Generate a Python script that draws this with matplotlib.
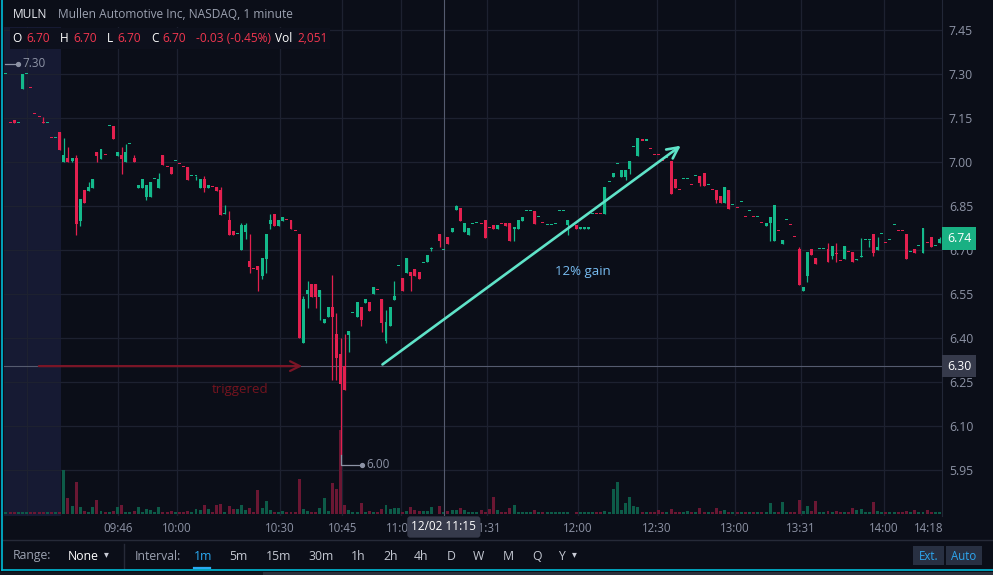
import numpy as np
import matplotlib
matplotlib.use('Agg')
import matplotlib.pyplot as plt
import matplotlib.transforms as mtransforms
from matplotlib.patches import Rectangle
from matplotlib.lines import Line2D

plt.rcParams['font.family'] = ['Open Sans', 'DejaVu Sans']

W, H = 993, 575
BG = '#0b0e18'
GRID = '#1d2130'
GREEN = '#14b98b'
RED = '#e3204f'
VGREEN = '#0d5b48'
VRED = '#6b1733'
TXT = '#8d93a5'

# 1 minute bars of MULN, 12/02 (None = no trade in that slot)
opens = [7.300, 7.133, 7.143, 7.132, 7.250, 7.300, 7.252, 7.164, 7.154, 7.133,
         7.132, 7.082, 7.081, 7.102, 7.000, 7.014, 7.003, 7.014, 6.799, 6.905,
         6.901, 6.911, 7.034, 7.010, 7.024, 7.122, 7.122, 7.021, 7.024, 7.000,
         7.060, 7.014, 6.911, 6.911, 6.881, 6.881, 6.942, 6.911, 7.024, 6.983,
         6.982, 7.002, 6.993, 6.983, 6.982, 6.951, 6.951, 6.911, 6.942, 6.911,
         6.916, 6.915, 6.905, 6.823, 6.802, 6.765, 6.754, 6.700, 6.761, 6.663,
         6.635, 6.646, 6.612, 6.669, 6.789, 6.823, 6.782, 6.799, 6.803, 6.802,
         6.766, 6.754, 6.383, 6.550, 6.584, 6.584, 6.540, 6.451, 6.472, 6.506,
         6.414, 6.346, 6.305, 6.410, 6.485, 6.472, 6.506, 6.519, 6.523, 6.550,
         6.565, 6.533, 6.390, 6.441, 6.530, 6.645, 6.605, 6.622, 6.625, 6.635,
         6.625, 6.656, 6.659, 6.703, None, 6.754, 6.700, 6.744, 6.761, 6.836,
         6.843, 6.761, 6.751, 6.789, 6.792, 6.790, 6.802, 6.776, 6.785, 6.772,
         6.790, 6.792, 6.792, 6.772, 6.772, 6.799, 6.833, 6.833, 6.833, 6.812,
         6.793, 6.785, 6.785, 6.789, 6.833, 6.833, 6.785, None, 6.785, 6.773,
         6.773, 6.773, 6.823, 6.824, 6.824, 6.823, 6.932, 6.949, 6.993, 6.949,
         6.949, 6.976, 7.051, 7.020, 7.073, 7.072, 7.045, 7.025, 7.025, 7.004,
         7.014, 7.003, 6.942, 6.904, 6.941, 6.941, 6.921, 6.951, 6.951, 6.963,
         6.920, 6.904, 6.905, 6.884, 6.860, 6.905, 6.853, 6.844, 6.863, 6.813,
         6.833, 6.813, 6.812, 6.792, 6.782, 6.792, 6.730, 6.765, 6.720, 6.801,
         6.785, 6.744, 6.703, 6.560, 6.611, 6.703, 6.672, 6.703, 6.703, 6.703,
         6.679, 6.690, 6.663, 6.669, 6.694, 6.693, 6.665, 6.676, 6.734, 6.734,
         6.754, 6.700, 6.754, 6.725, 6.734, 6.785, 6.766, 6.766, 6.754, 6.693,
         6.703, 6.713, 6.690, 6.725, 6.744, 6.713, 6.724]

highs = [7.301, 7.133, 7.143, 7.133, 7.300, 7.301, 7.252, 7.164, 7.154, 7.153,
         7.133, 7.082, 7.082, 7.102, 7.082, 7.051, 7.014, 7.024, 6.874, 6.905,
         6.932, 6.942, 7.034, 7.044, 7.024, 7.123, 7.122, 7.034, 7.051, 7.061,
         7.061, 7.024, 6.922, 6.942, 6.922, 6.932, 6.943, 6.963, 7.024, 6.983,
         6.982, 7.003, 6.993, 6.983, 6.982, 6.952, 6.952, 6.942, 6.953, 6.922,
         6.916, 6.915, 6.915, 6.853, 6.833, 6.765, 6.755, 6.792, 6.792, 6.754,
         6.635, 6.646, 6.673, 6.754, 6.823, 6.823, 6.802, 6.812, 6.803, 6.802,
         6.766, 6.754, 6.543, 6.594, 6.584, 6.584, 6.564, 6.465, 6.506, 6.615,
         6.485, 6.400, 6.414, 6.424, 6.486, 6.523, 6.506, 6.533, 6.523, 6.574,
         6.565, 6.533, 6.495, 6.506, 6.594, 6.646, 6.605, 6.673, 6.625, 6.635,
         6.625, 6.657, 6.683, 6.710, None, 6.754, 6.700, 6.744, 6.775, 6.853,
         6.843, 6.792, 6.775, 6.790, 6.793, 6.790, 6.802, 6.776, 6.785, 6.785,
         6.790, 6.792, 6.792, 6.778, 6.802, 6.812, 6.834, 6.834, 6.833, 6.813,
         6.793, 6.786, 6.786, 6.790, 6.834, 6.834, 6.802, None, 6.785, 6.774,
         6.774, 6.774, 6.824, 6.824, 6.824, 6.915, 6.933, 6.963, 6.994, 6.973,
         6.973, 7.004, 7.052, 7.082, 7.073, 7.073, 7.045, 7.025, 7.025, 7.004,
         7.015, 7.003, 6.942, 6.904, 6.942, 6.942, 6.921, 6.952, 6.951, 6.963,
         6.921, 6.904, 6.905, 6.884, 6.915, 6.905, 6.854, 6.844, 6.864, 6.813,
         6.834, 6.813, 6.813, 6.792, 6.792, 6.812, 6.853, 6.765, 6.734, 6.802,
         6.785, 6.744, 6.710, 6.574, 6.693, 6.703, 6.672, 6.704, 6.704, 6.724,
         6.713, 6.724, 6.663, 6.713, 6.694, 6.693, 6.670, 6.740, 6.735, 6.735,
         6.754, 6.744, 6.755, 6.725, 6.735, 6.786, 6.766, 6.766, 6.754, 6.694,
         6.703, 6.714, 6.775, 6.725, 6.744, 6.714, 6.744]

lows = [7.300, 7.132, 7.132, 7.132, 7.250, 7.300, 7.251, 7.163, 7.153, 7.132,
        7.132, 7.081, 7.081, 7.041, 7.000, 7.000, 7.000, 6.751, 6.782, 6.860,
        6.901, 6.911, 7.000, 7.010, 7.023, 7.122, 7.078, 7.021, 6.959, 7.000,
        7.060, 7.000, 6.911, 6.911, 6.870, 6.881, 6.942, 6.911, 6.990, 6.982,
        6.959, 7.002, 6.992, 6.982, 6.939, 6.951, 6.939, 6.911, 6.898, 6.911,
        6.915, 6.901, 6.819, 6.823, 6.751, 6.751, 6.754, 6.700, 6.737, 6.622,
        6.634, 6.560, 6.601, 6.622, 6.772, 6.782, 6.782, 6.799, 6.802, 6.772,
        6.765, 6.401, 6.383, 6.502, 6.540, 6.502, 6.461, 6.451, 6.472, 6.257,
        6.257, 6.000, 6.223, 6.352, 6.485, 6.472, 6.441, 6.519, 6.492, 6.550,
        6.564, 6.420, 6.383, 6.441, 6.530, 6.645, 6.560, 6.622, 6.560, 6.611,
        6.601, 6.656, 6.659, 6.695, None, 6.710, 6.700, 6.720, 6.761, 6.836,
        6.799, 6.761, 6.751, 6.789, 6.792, 6.789, 6.741, 6.775, 6.772, 6.772,
        6.789, 6.782, 6.730, 6.730, 6.772, 6.799, 6.833, 6.833, 6.789, 6.812,
        6.792, 6.785, 6.785, 6.789, 6.833, 6.833, 6.751, None, 6.772, 6.773,
        6.773, 6.773, 6.823, 6.823, 6.823, 6.823, 6.932, 6.949, 6.993, 6.949,
        6.939, 6.959, 7.051, 7.020, 7.072, 7.072, 7.044, 7.024, 7.024, 7.003,
        7.014, 6.891, 6.911, 6.903, 6.941, 6.941, 6.920, 6.951, 6.918, 6.918,
        6.920, 6.903, 6.860, 6.860, 6.860, 6.840, 6.853, 6.843, 6.863, 6.812,
        6.833, 6.812, 6.812, 6.791, 6.782, 6.730, 6.730, 6.764, 6.720, 6.801,
        6.784, 6.743, 6.581, 6.560, 6.591, 6.683, 6.652, 6.703, 6.703, 6.659,
        6.669, 6.659, 6.662, 6.669, 6.693, 6.659, 6.665, 6.676, 6.734, 6.710,
        6.680, 6.700, 6.754, 6.724, 6.734, 6.785, 6.765, 6.765, 6.669, 6.693,
        6.690, 6.713, 6.690, 6.724, 6.710, 6.713, 6.724]

closes = [7.301, 7.132, 7.132, 7.133, 7.300, 7.301, 7.251, 7.163, 7.153, 7.132,
          7.133, 7.081, 7.082, 7.041, 7.024, 7.000, 7.014, 6.789, 6.874, 6.860,
          6.915, 6.942, 7.021, 7.044, 7.023, 7.123, 7.078, 7.034, 7.010, 7.034,
          7.061, 7.000, 6.922, 6.942, 6.922, 6.932, 6.943, 6.942, 6.990, 6.982,
          6.959, 7.003, 6.992, 6.982, 6.939, 6.952, 6.952, 6.942, 6.911, 6.922,
          6.915, 6.901, 6.819, 6.824, 6.751, 6.751, 6.755, 6.785, 6.785, 6.642,
          6.634, 6.632, 6.673, 6.754, 6.802, 6.782, 6.802, 6.812, 6.802, 6.772,
          6.765, 6.401, 6.533, 6.563, 6.540, 6.540, 6.564, 6.465, 6.506, 6.472,
          6.332, 6.243, 6.223, 6.424, 6.486, 6.523, 6.461, 6.533, 6.492, 6.574,
          6.564, 6.451, 6.455, 6.506, 6.543, 6.646, 6.560, 6.673, 6.611, 6.611,
          6.601, 6.657, 6.683, 6.704, None, 6.730, 6.700, 6.720, 6.775, 6.850,
          6.799, 6.792, 6.775, 6.790, 6.793, 6.789, 6.741, 6.775, 6.772, 6.785,
          6.789, 6.782, 6.730, 6.778, 6.802, 6.812, 6.834, 6.834, 6.789, 6.813,
          6.792, 6.786, 6.786, 6.790, 6.834, 6.834, 6.802, None, 6.772, 6.774,
          6.774, 6.774, 6.824, 6.823, 6.823, 6.915, 6.933, 6.963, 6.994, 6.973,
          6.973, 7.004, 7.052, 7.082, 7.072, 7.073, 7.044, 7.024, 7.024, 7.003,
          7.015, 6.891, 6.911, 6.903, 6.942, 6.942, 6.920, 6.952, 6.928, 6.918,
          6.921, 6.903, 6.870, 6.860, 6.915, 6.840, 6.854, 6.843, 6.864, 6.812,
          6.834, 6.812, 6.813, 6.791, 6.792, 6.812, 6.853, 6.764, 6.734, 6.802,
          6.784, 6.743, 6.581, 6.574, 6.693, 6.683, 6.652, 6.704, 6.704, 6.659,
          6.713, 6.686, 6.662, 6.713, 6.693, 6.659, 6.668, 6.680, 6.735, 6.735,
          6.690, 6.710, 6.755, 6.724, 6.735, 6.786, 6.765, 6.765, 6.669, 6.694,
          6.690, 6.714, 6.775, 6.724, 6.710, 6.714, 6.738]

# volume in thousands of shares
volume = [2, 2, 2, 2, 2, 2, 2, 2, 2, 2,
          2, 2, 2, 2, 44, 16, 8, 32, 7, 3,
          2, 7, 14, 3, 2, 2, 3, 7, 9, 2,
          2, 3, 7, 2, 5, 4, 2, 7, 2, 2,
          3, 2, 2, 2, 3, 2, 5, 4, 9, 5,
          2, 9, 10, 2, 8, 5, 5, 9, 4, 6,
          2, 24, 6, 13, 4, 2, 2, 3, 2, 2,
          2, 35, 5, 3, 2, 2, 6, 16, 3, 31,
          25, 84, 9, 4, 2, 2, 11, 2, 3, 2,
          2, 5, 9, 5, 6, 6, 2, 3, 7, 4,
          3, 3, 3, 7, None, 8, 2.051, 3, 4, 4,
          6, 4, 2, 2, 2, 4, 2, 5, 17, 4,
          2, 2, 6, 9, 2, 2, 2, 2, 4, 2,
          2, 2, 2, 2, 2, 2, 2, None, 2, 2,
          2, 2, 2, 2, 2, 3, 2, 25, 32, 4,
          11, 17, 8, 7, 2, 2, 2, 2, 4, 2,
          2, 5, 2, 2, 2, 3, 2, 2, 6, 2,
          2, 2, 6, 3, 4, 2, 2, 2, 2, 2,
          2, 2, 2, 2, 2, 11, 2, 2, 12, 2,
          2, 2, 14, 3, 8, 3, 13, 2, 2, 3,
          2, 3, 2, 2, 2, 6, 4, 5, 2, 2,
          12, 3, 2, 2, 2, 2, 2, 2, 3, 2,
          4, 2, 2, 4, 2, 2, 2]

tick_pos = [27.1, 41.3, 66.3, 81.4, 95.6, 116.5, 138.5, 157.5, 176.5, 192.5, 212.6, 223.5]
tick_labels = ['09:46', '10:00', '10:30', '10:45', '11:00', '11:31', '12:00',
               '12:30', '13:00', '13:31', '14:00', '14:18']
price_ticks = [5.95, 6.10, 6.25, 6.40, 6.55, 6.70, 6.85, 7.00, 7.15, 7.30, 7.45]

premarket_end = 13.3
cross_bar = 106
cross_price = 6.304
trigger_price = 6.304

o = np.array(opens, dtype=float)
h = np.array(highs, dtype=float)
l = np.array(lows, dtype=float)
c = np.array(closes, dtype=float)
v = np.array(volume, dtype=float)
idx = np.arange(len(o))
print(len(o), len(h), len(l), len(c), len(v))


def fx(x):
    return x / W


def fy(y):
    return 1 - y / H


fig = plt.figure(figsize=(W / 100, H / 100), dpi=100, facecolor=BG)
ax = fig.add_axes([fx(4), fy(516), 938 / W, 516 / H])
ax.set_facecolor(BG)
ax.set_axisbelow(True)

ok = ~np.isnan(o)
up = c >= o
cols = np.where(up, GREEN, RED)
vcols = np.where(up, VGREEN, VRED)

# premarket shading
ax.axvspan(-0.5, premarket_end, color='#161a33', lw=0, zorder=0.2)

# grid
ax.set_yticks(price_ticks)
ax.set_yticklabels(['%.2f' % p for p in price_ticks])
ax.grid(axis='y', color=GRID, lw=0.9)
for g in [5.1] + tick_pos[:-1]:
    ax.axvline(g, color=GRID, lw=0.9, zorder=0.6)

# volume (bottom overlay)
vtrans = mtransforms.blended_transform_factory(
    ax.transData, mtransforms.Affine2D().scale(1, 1 / 516.0).translate(0, 2 / 516.0) + ax.transAxes)
ax.bar(idx[ok], v[ok], width=0.72, bottom=0, color=vcols[ok], lw=0, transform=vtrans, zorder=1)

# candles
ax.vlines(idx[ok], l[ok], h[ok], colors=cols[ok], lw=0.9, zorder=3)
body_lo = np.minimum(o, c)
body_h = np.maximum(np.abs(c - o), 0.0045)
ax.bar(idx[ok], body_h[ok], bottom=body_lo[ok], width=0.72, color=cols[ok], lw=0, zorder=3.1)

# crosshair
ax.axvline(cross_bar, color='#555b6f', lw=0.8, zorder=2)
ax.axhline(cross_price, color='#555b6f', lw=0.8, zorder=2)

# drawings
ax.annotate('', xy=(72.4, trigger_price), xytext=(7.3, trigger_price),
            arrowprops=dict(arrowstyle='->,head_length=0.7,head_width=0.35', color='#7a1526', lw=1.6),
            zorder=4)
ax.text(56.7, 6.223, 'triggered', color='#74141f', fontsize=9.5, ha='center', va='center', zorder=4)
ax.annotate('', xy=(163.9, 7.061), xytext=(90.6, trigger_price),
            arrowprops=dict(arrowstyle='->,head_length=0.8,head_width=0.4', color='#5fe3c8', lw=1.9),
            zorder=4)
ax.text(139.7, 6.625, '12% gain', color='#78bdf2', fontsize=9.5, ha='center', va='center', zorder=4)

# high / low markers
MARK = '#8d93a5'
lo_i = int(np.nanargmin(l))
ax.plot([lo_i, lo_i, lo_i + 5.2], [l[lo_i], l[lo_i] - 0.033, l[lo_i] - 0.033], color=MARK, lw=0.9, zorder=5)
ax.plot(lo_i + 5.2, l[lo_i] - 0.033, 'o', ms=2.8, color=MARK, zorder=5)
ax.text(lo_i + 6.3, l[lo_i] - 0.033, '%.2f' % np.nanmin(l), color=MARK, fontsize=8.5, va='center', zorder=5)
ax.plot([-0.3, 3.0], [np.nanmax(h) + 0.033] * 2, color=MARK, lw=0.9, zorder=5)
ax.plot(3.0, np.nanmax(h) + 0.033, 'o', ms=2.8, color=MARK, zorder=5)
ax.text(3.9, np.nanmax(h) + 0.033, '%.2f' % np.nanmax(h), color=MARK, fontsize=8.5, va='center', zorder=5)

ax.set_xlim(-0.48, 226.6)
ax.set_ylim(5.793, 7.552)

ax.yaxis.tick_right()
ax.tick_params(axis='y', length=0, pad=5, labelsize=8.8, labelcolor=TXT)
ax.set_xticks(tick_pos)
ax.set_xticklabels(tick_labels)
ax.tick_params(axis='x', length=0, pad=4, labelsize=8.3, labelcolor=TXT)
for s in ['top', 'left', 'bottom']:
    ax.spines[s].set_visible(False)
ax.spines['right'].set_color('#222737')

# price / time labels on the axes
side = mtransforms.blended_transform_factory(ax.transAxes, ax.transData)
ax.text(1.0057, cross_price, '%.2f' % cross_price, transform=side, ha='left', va='center',
        color='white', fontsize=8.8, zorder=6, clip_on=False,
        bbox=dict(boxstyle='square,pad=0.4', fc='#363a4b', ec='none'))
ax.text(1.0057, c[-1], '%.2f' % c[-1], transform=side, ha='left', va='center',
        color='white', fontsize=8.8, zorder=6, clip_on=False,
        bbox=dict(boxstyle='square,pad=0.4', fc='#19b083', ec='none'))
bottom = mtransforms.blended_transform_factory(ax.transData, ax.transAxes)
ax.text(cross_bar, -11 / 516, '12/02 11:15', transform=bottom, ha='center', va='center',
        color='white', fontsize=8.5, zorder=6, clip_on=False,
        bbox=dict(boxstyle='round,pad=0.35,rounding_size=0.25', fc='#363a4b', ec='none'))

# header
fig.add_artist(Rectangle((fx(4), fy(27)), 296 / W, 27 / H, transform=fig.transFigure,
                         fc=BG, ec='none', zorder=1))
fig.add_artist(Rectangle((fx(10), fy(49)), 320 / W, 21 / H, transform=fig.transFigure,
                         fc='#0d101c', ec='none', zorder=1))
fig.text(fx(13), fy(15), 'MULN', color='#e8eaf0', fontsize=8.6, va='center')
fig.text(fx(58), fy(15), 'Mullen Automotive Inc, NASDAQ, 1 minute', color='#9ba1b0', fontsize=8.6, va='center')
HRED = '#f2364f'
chg = c[cross_bar] - c[cross_bar - 1]
pct = chg / c[cross_bar - 1] * 100
head = [(12, 'O', 'white'), (26, '%.2f' % o[cross_bar], HRED),
        (60, 'H', 'white'), (73, '%.2f' % h[cross_bar], HRED),
        (107, 'L', 'white'), (117, '%.2f' % l[cross_bar], HRED),
        (151, 'C', 'white'), (162, '%.2f' % c[cross_bar], HRED),
        (196, '%.2f (%.2f%%)' % (chg, pct), HRED),
        (275, 'Vol', 'white'), (297, '{:,}'.format(int(round(v[cross_bar] * 1000))), HRED)]
for x, t, col in head:
    fig.text(fx(x), fy(39), t, color=col, fontsize=8.6, va='center')

# bottom toolbar
fig.add_artist(Line2D([fx(3), fx(993)], [fy(540), fy(540)], color='#262a38', lw=1, transform=fig.transFigure))
fig.add_artist(Line2D([fx(124), fx(124)], [fy(544), fy(569)], color='#262a38', lw=1, transform=fig.transFigure))
fig.text(fx(13), fy(556), 'Range:', color='#9ba1b0', fontsize=8.8, va='center')
fig.text(fx(68), fy(556), 'None', color='white', fontsize=8.8, va='center')
fig.text(fx(104), fy(555), '▾', color='#c9ccd6', fontsize=7, va='center')
fig.text(fx(135), fy(556), 'Interval:', color='#9ba1b0', fontsize=8.8, va='center')
intervals = ['1m', '5m', '15m', '30m', '1h', '2h', '4h', 'D', 'W', 'M', 'Q', 'Y']
int_x = [194, 229, 266, 308, 351, 383, 414, 447, 473, 503, 532, 558]
for x, t in zip(int_x, intervals):
    fig.text(fx(x), fy(556), t, color='#2aa9f2' if t == '1m' else '#c4c8d2', fontsize=8.8, va='center')
fig.text(fx(572), fy(555), '▾', color='#c9ccd6', fontsize=7, va='center')
fig.add_artist(Line2D([fx(194), fx(210)], [fy(568), fy(568)], color='#2aa9f2', lw=1.6, transform=fig.transFigure))
for x0, x1, t in [(913, 944, 'Ext.'), (946, 982, 'Auto')]:
    fig.add_artist(Rectangle((fx(x0), fy(565)), (x1 - x0) / W, 19 / H, transform=fig.transFigure,
                             fc='#283042', ec='none', zorder=1))
    fig.text(fx((x0 + x1) / 2), fy(556), t, color='#2ea6ef', fontsize=8.3, ha='center', va='center')

# widget frame
fig.add_artist(Rectangle((0, 0), fx(263), 3 / H, transform=fig.transFigure, fc='#141720', ec='none'))
fig.add_artist(Rectangle((fx(263), 0), 1 - fx(263), 3 / H, transform=fig.transFigure, fc='#2c303b', ec='none'))
fig.add_artist(Line2D([fx(2), fx(2)], [1, fy(570)], color='#00bcd8', lw=1.2, transform=fig.transFigure))
fig.add_artist(Line2D([fx(2), 1], [fy(570), fy(570)], color='#00bcd8', lw=1.2, transform=fig.transFigure))

fig.savefig('out.png', dpi=100, facecolor=BG)
